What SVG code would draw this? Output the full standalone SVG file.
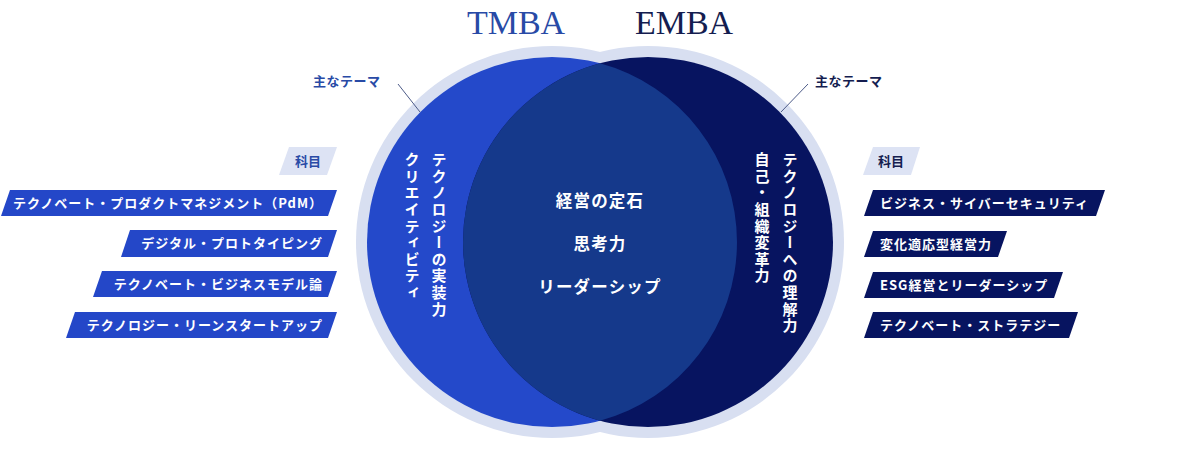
<svg xmlns="http://www.w3.org/2000/svg" width="1200" height="450" viewBox="0 0 1200 450">
<style>
.jp{font-family:"Noto Sans CJK JP","Noto Sans",sans-serif;font-weight:700}
.title{font-family:"Liberation Serif","DejaVu Serif",serif;font-size:34px}
.bar{font-size:13px;letter-spacing:1px;fill:#fff}
.theme{font-size:13px;letter-spacing:0.5px}
.center{font-size:16.5px;letter-spacing:1.2px;fill:#fff;text-anchor:middle}
.vert{font-size:15px;letter-spacing:1.6px;fill:#fff;writing-mode:vertical-rl}
.halo{fill:#d8dff1}
.lb{fill:#2447c8}
.rb{fill:#071460}
.tag{fill:#dde3f4}
.lead{stroke:#4d5b88;stroke-width:1;fill:none}
</style>
<g id="halo">
<circle class="halo" cx="552" cy="242" r="196"/>
<circle class="halo" cx="648" cy="242" r="196"/>
</g>
<g id="tmba-circle">
<circle cx="552" cy="242" r="185" fill="#2449ca"/>
</g>
<g id="emba-circle">
<circle cx="648" cy="242" r="185" fill="#071460"/>
</g>
<g id="overlap">
<path d="M600,63.34 A185,185 0 0 1 600,420.66 A185,185 0 0 1 600,63.34 Z" fill="#15398b"/>
<text class="jp center" x="600" y="207">経営の定石</text>
<text class="jp center" x="600" y="250">思考力</text>
<text class="jp center" x="600" y="293">リーダーシップ</text>
</g>
<g id="titles">
<text class="title" x="516" y="34" text-anchor="middle" fill="#284aa6">TMBA</text>
<text class="title" x="684" y="34" text-anchor="middle" fill="#141d50">EMBA</text>
</g>
<g id="tmba-themes">
<text class="jp vert" x="439" y="152">テクノロジーの実装力</text>
<text class="jp vert" x="412" y="152">クリエイティビティ</text>
</g>
<g id="emba-themes">
<text class="jp vert" x="790" y="152">テクノロジーへの理解力</text>
<text class="jp vert" x="762" y="152">自己・組織変革力</text>
</g>
<g id="connectors">
<line class="lead" x1="398" y1="84" x2="420" y2="112"/>
<line class="lead" x1="808" y1="84" x2="781" y2="112"/>
</g>
<g id="left-theme-label">
<text class="jp theme" x="313" y="86" fill="#284aa6">主なテーマ</text>
</g>
<g id="right-theme-label">
<text class="jp theme" x="815" y="86" fill="#141d50">主なテーマ</text>
</g>
<g id="left-subjects">
<polygon class="tag" points="289,147 337,147 327,175 279,175"/>
<text class="jp" x="295" y="166" font-size="13" fill="#284aa6">科目</text>
<polygon class="lb" points="10,190 337,190 328,216 1,216"/>
<text class="jp bar" x="323" y="208" text-anchor="end">テクノベート・プロダクトマネジメント（PdM）</text>
<polygon class="lb" points="130,230 337,230 328,257 121,257"/>
<text class="jp bar" x="323" y="248" text-anchor="end">デジタル・プロトタイピング</text>
<polygon class="lb" points="102,271 337,271 328,297 93,297"/>
<text class="jp bar" x="323" y="289" text-anchor="end">テクノベート・ビジネスモデル論</text>
<polygon class="lb" points="75,312 337,312 328,338 66,338"/>
<text class="jp bar" x="323" y="330" text-anchor="end">テクノロジー・リーンスタートアップ</text>
</g>
<g id="right-subjects">
<polygon class="tag" points="873,147 920,147 911,175 863,175"/>
<text class="jp" x="878" y="166" font-size="13" fill="#141d50">科目</text>
<polygon class="rb" points="873,190 1105,190 1096,216 864,216"/>
<text class="jp bar" x="880" y="208">ビジネス・サイバーセキュリティ</text>
<polygon class="rb" points="873,231 1007,231 998,257 864,257"/>
<text class="jp bar" x="880" y="249">変化適応型経営力</text>
<polygon class="rb" points="873,272 1063,272 1054,298 864,298"/>
<text class="jp bar" x="880" y="290">ESG経営とリーダーシップ</text>
<polygon class="rb" points="873,312 1078,312 1069,338 864,338"/>
<text class="jp bar" x="880" y="330">テクノベート・ストラテジー</text>
</g>
</svg>
